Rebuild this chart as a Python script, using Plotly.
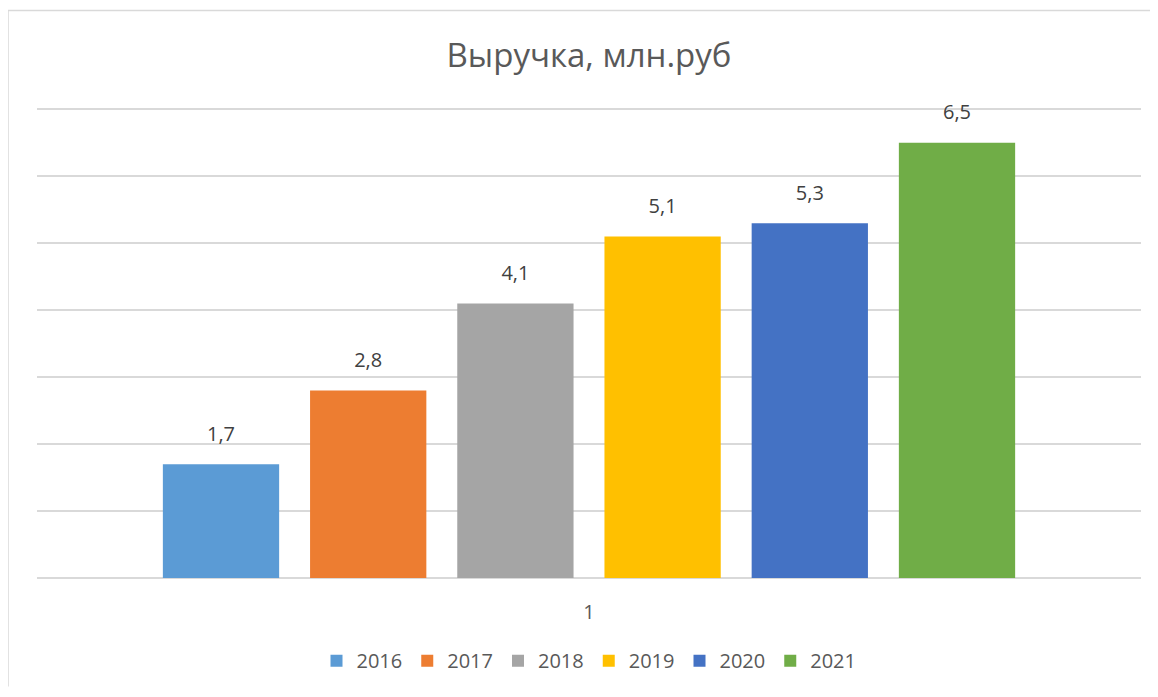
import plotly.graph_objects as go

years = ["2016", "2017", "2018", "2019", "2020", "2021"]
revenue = [1.7, 2.8, 4.1, 5.1, 5.3, 6.5]
colors = ["#5B9BD5", "#ED7D31", "#A5A5A5", "#FFC000", "#4472C4", "#70AD47"]
category = ["1"]
title_text = "Выручка, млн.руб"

fig = go.Figure()
for yr, val, col in zip(years, revenue, colors):
    fig.add_trace(go.Bar(
        x=category, y=[val], name=yr, marker=dict(color=col, line=dict(width=0)),
        offsetgroup=yr, alignmentgroup="a",
    ))
# data labels: invisible markers grouped like the bars push the text above bar tops
for yr, val in zip(years, revenue):
    fig.add_trace(go.Scatter(
        x=category, y=[val], mode="markers+text", showlegend=False, hoverinfo="skip",
        marker=dict(size=28, opacity=0), offsetgroup=yr, alignmentgroup="a",
        texttemplate="%{y:.1f}", textposition="top center",
        textfont=dict(size=20, color="#404040", family="Open Sans"),
        cliponaxis=False,
    ))

# page body has an 8px margin; figure coordinates = window coordinates - 8
OFF = 8
YMAX = 7.02
W, H = 1158 - 2 * OFF, 697 - 2 * OFF
unit = (580 - 109) / 7.0
top_px = 580 - YMAX * unit
L, T = 37 - OFF, round(top_px - OFF)
R = W - (1141 - OFF)
B = H - (580 - OFF)
pw, ph = W - L - R, H - T - B

def px_x(px):
    return (px - OFF - L) / pw

def px_y(py):
    return (H - B - (py - OFF)) / ph

fig.update_layout(
    width=W, height=H,
    margin=dict(l=L, r=R, t=T, b=B),
    paper_bgcolor="white", plot_bgcolor="white",
    separators=", ",
    barmode="group", bargap=0.2, bargroupgap=0.21,
    scattermode="group", scattergap=0.2,
    title=dict(text=title_text, x=0.5, xref="paper", xanchor="center", y=1 - (55 - OFF) / H, yanchor="middle",
               font=dict(size=33, color="#595959", family="Open Sans")),
    font=dict(family="Open Sans", color="#595959"),
    xaxis=dict(type="category", showgrid=False, showline=False, zeroline=False,
               ticks="outside", ticklen=16, tickcolor="rgba(0,0,0,0)",
               tickfont=dict(size=20, color="#595959")),
    yaxis=dict(range=[0, YMAX], dtick=1, showgrid=True, gridcolor="#D9D9D9", gridwidth=1.5,
               showticklabels=False, zeroline=True, zerolinecolor="#D9D9D9", zerolinewidth=1.5,
               showline=False),
    legend=dict(orientation="h", x=0.5, xanchor="center", y=px_y(663), yanchor="middle",
                font=dict(size=20, color="#595959"), itemwidth=30, traceorder="normal"),
    shapes=[
        dict(type="line", xref="paper", yref="paper", x0=px_x(8), x1=px_x(8), y0=px_y(10), y1=px_y(689),
             line=dict(color="#D9D9D9", width=1.5)),
        dict(type="line", xref="paper", yref="paper", x0=px_x(8), x1=px_x(1150), y0=px_y(10), y1=px_y(10),
             line=dict(color="#D9D9D9", width=1.5)),
    ],
)

fig.write_html("out.html")
